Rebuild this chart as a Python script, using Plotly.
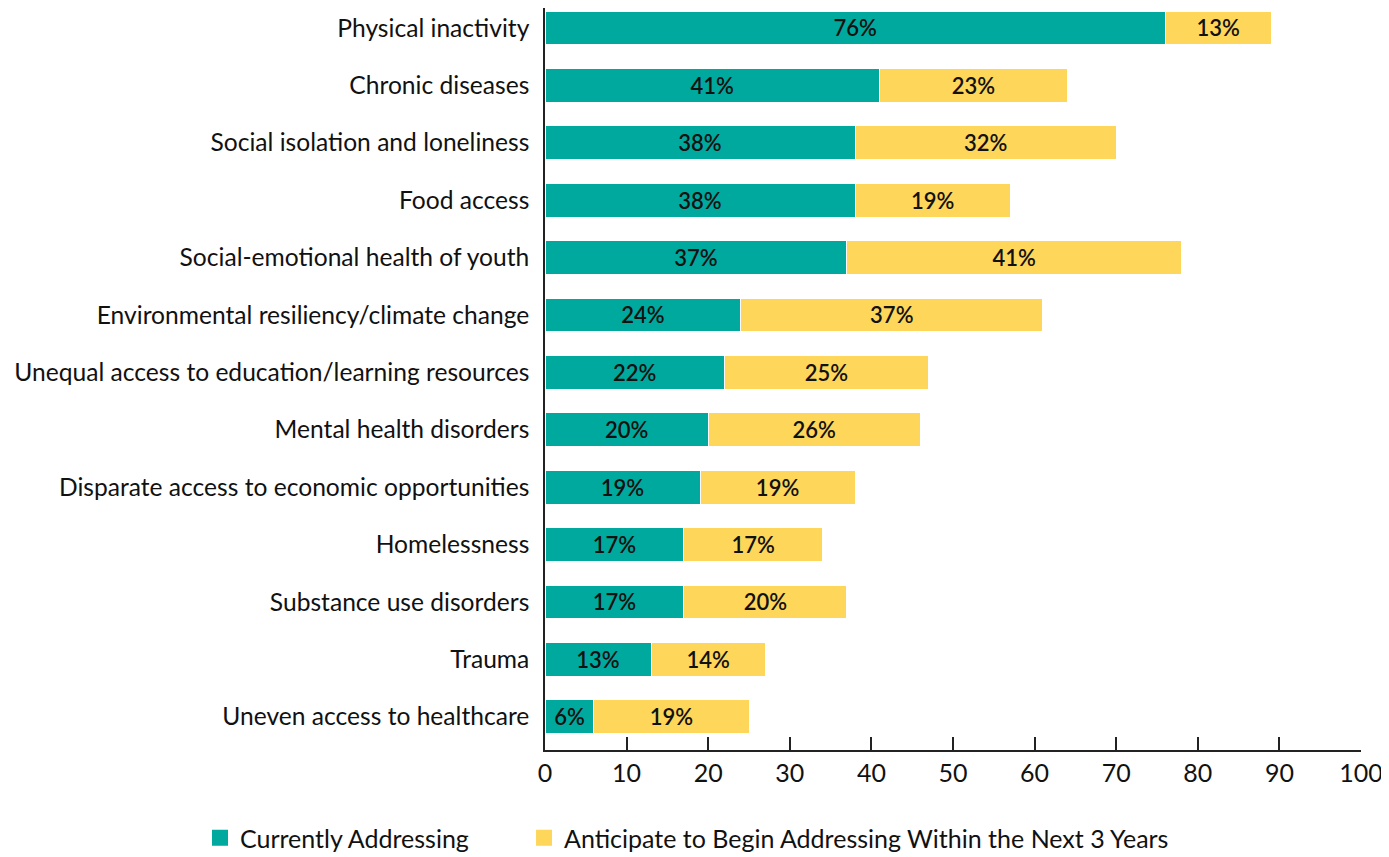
import plotly.graph_objects as go

categories = [
    "Physical inactivity",
    "Chronic diseases",
    "Social isolation and loneliness",
    "Food access",
    "Social-emotional health of youth",
    "Environmental resiliency/climate change",
    "Unequal access to education/learning resources",
    "Mental health disorders",
    "Disparate access to economic opportunities",
    "Homelessness",
    "Substance use disorders",
    "Trauma",
    "Uneven access to healthcare",
]
currently = [76, 41, 38, 38, 37, 24, 22, 20, 19, 17, 17, 13, 6]
anticipate = [13, 23, 32, 19, 41, 37, 25, 26, 19, 17, 20, 14, 19]
x_ticks = [0, 10, 20, 30, 40, 50, 60, 70, 80, 90, 100]
x_tick_labels = [str(t) for t in x_ticks]
series_names = ["Currently Addressing",
                "Anticipate to Begin Addressing Within the Next 3 Years"]

TEAL = "#00A99D"
YELLOW = "#FED65A"
FONT = "Lato"

fig = go.Figure()
for name, vals, col in zip(series_names, [currently, anticipate], [TEAL, YELLOW]):
    fig.add_trace(go.Bar(
        y=categories, x=vals, orientation="h", name=name, showlegend=False,
        marker=dict(color=col, line=dict(color="white", width=1)),
        text=[f"{v}%" for v in vals], textposition="inside",
        insidetextanchor="middle", constraintext="none",
        textfont=dict(family=FONT, size=22, color="#111111", weight=600),
        hoverinfo="skip",
    ))
# legend entries (square swatches), one legend box per series
for name, col, lg in zip(series_names, [TEAL, YELLOW], ["legend", "legend2"]):
    fig.add_trace(go.Scatter(
        x=[None], y=[None], mode="markers", name=name, legend=lg,
        marker=dict(symbol="square", size=22, color=col),
        hoverinfo="skip",
    ))

legend_common = dict(orientation="h", yanchor="middle", y=-0.1186, xanchor="left",
                     font=dict(family=FONT, size=25, color="#111111"),
                     bgcolor="rgba(0,0,0,0)")

fig.update_layout(
    template="none",
    barmode="stack", bargap=0.41,
    width=1381, height=849,
    margin=dict(l=537, r=28, t=0, b=107, autoexpand=False),
    plot_bgcolor="white", paper_bgcolor="white",
    font=dict(family=FONT, size=25, color="#111111"),
    showlegend=True,
    legend=dict(x=-0.4228, **legend_common),
    legend2=dict(x=-0.0257, **legend_common),
    xaxis=dict(range=[0, 100], tickvals=x_ticks, ticktext=x_tick_labels,
               automargin=False,
               showgrid=False, zeroline=False, showline=True, linecolor="#222222",
               linewidth=1.5, ticks="inside", ticklen=13, tickcolor="#222222",
               tickwidth=1.5, tickfont=dict(family=FONT, size=25, color="#111111"),
               fixedrange=True),
    yaxis=dict(categoryorder="array", categoryarray=categories,
               range=[12.579, -0.348], automargin=False,
               showgrid=False, zeroline=False,
               showline=True, linecolor="#222222", linewidth=1.5, ticks="",
               ticklabelstandoff=9,
               tickfont=dict(family=FONT, size=24.6, color="#111111"), fixedrange=True),
)

fig.write_html("out.html")
